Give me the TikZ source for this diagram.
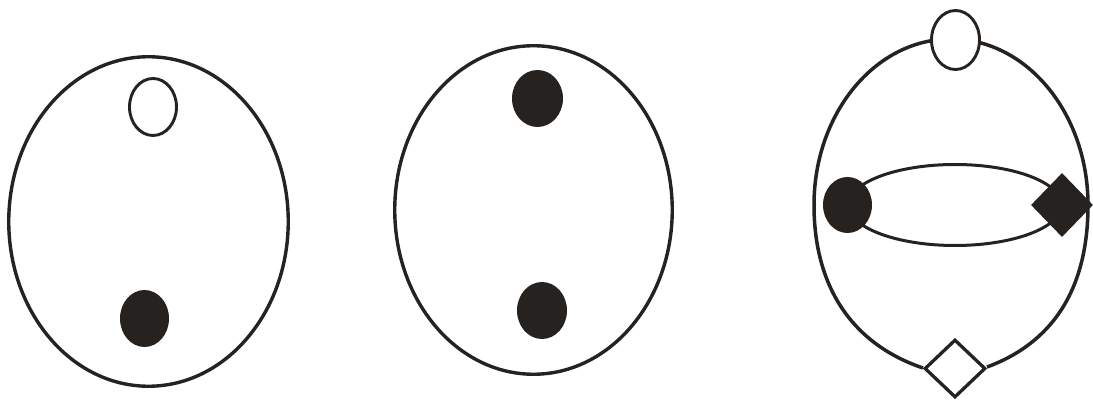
\documentclass[tikz,border=0pt]{standalone}
\usetikzlibrary{shapes.geometric}
\definecolor{ink}{RGB}{37,34,31}
\tikzset{
  outline/.style={draw=ink, line width=3.5pt},
  openblob/.style={ellipse, draw=ink, line width=2.9pt, fill=white, inner sep=0pt},
  fullblob/.style={ellipse, fill=ink, inner sep=0pt},
  bigoval/.style={ellipse, draw=ink, line width=3.4pt, inner sep=0pt},
  innerloop/.style={ellipse, draw=ink, line width=3pt, inner sep=0pt},
  fulldiamond/.style={diamond, fill=ink, inner sep=0pt},
  opendiamond/.style={diamond, draw=ink, line width=3.3pt, fill=white, inner sep=0pt, line join=miter}
}
\begin{document}
\begin{tikzpicture}[x=1pt, y=-1pt]
\useasboundingbox (0,0) rectangle (1093,403);
% ---------- figure 1 ----------
\node[bigoval, minimum width=279.5pt, minimum height=329.5pt] (o1) at (148.5,221.5) {};
\node[openblob, minimum width=47pt, minimum height=57pt] (a1) at (153,107) {};
\node[fullblob, minimum width=49pt, minimum height=57pt] (b1) at (144.5,318.5) {};
% ---------- figure 2 ----------
\node[bigoval, minimum width=277.5pt, minimum height=328.5pt] (o2) at (533.5,210) {};
\node[fullblob, minimum width=51pt, minimum height=57pt] (a2) at (537.5,98.5) {};
\node[fullblob, minimum width=50pt, minimum height=57pt] (b2) at (542,310.5) {};
% ---------- figure 3 ----------
\coordinate (dl) at (923,368);
\coordinate (dr) at (987,367);
\coordinate (lft) at (814,205);
\coordinate (rgt) at (1088,205);
\coordinate (tp) at (951,39);
\draw[outline, line join=round] (dl) .. controls (855,345) and (814,290) .. (lft)
  .. controls (814,113.3) and (875.3,39) .. (tp)
  .. controls (1026.7,39) and (1088,113.3) .. (rgt)
  .. controls (1088,290) and (1052,343) .. (dr);
\node[innerloop, minimum width=213pt, minimum height=81pt] (in3) at (955,205) {};
\node[openblob, minimum width=48pt, minimum height=59pt] (a3) at (955.5,40) {};
\node[fullblob, minimum width=49pt, minimum height=56pt] (c3) at (847.5,205) {};
\node[fulldiamond, minimum width=62pt, minimum height=64pt] (d3) at (1062,205) {};
\node[opendiamond, minimum width=61pt, minimum height=58pt] (e3) at (955,368.5) {};
\end{tikzpicture}
\end{document}
